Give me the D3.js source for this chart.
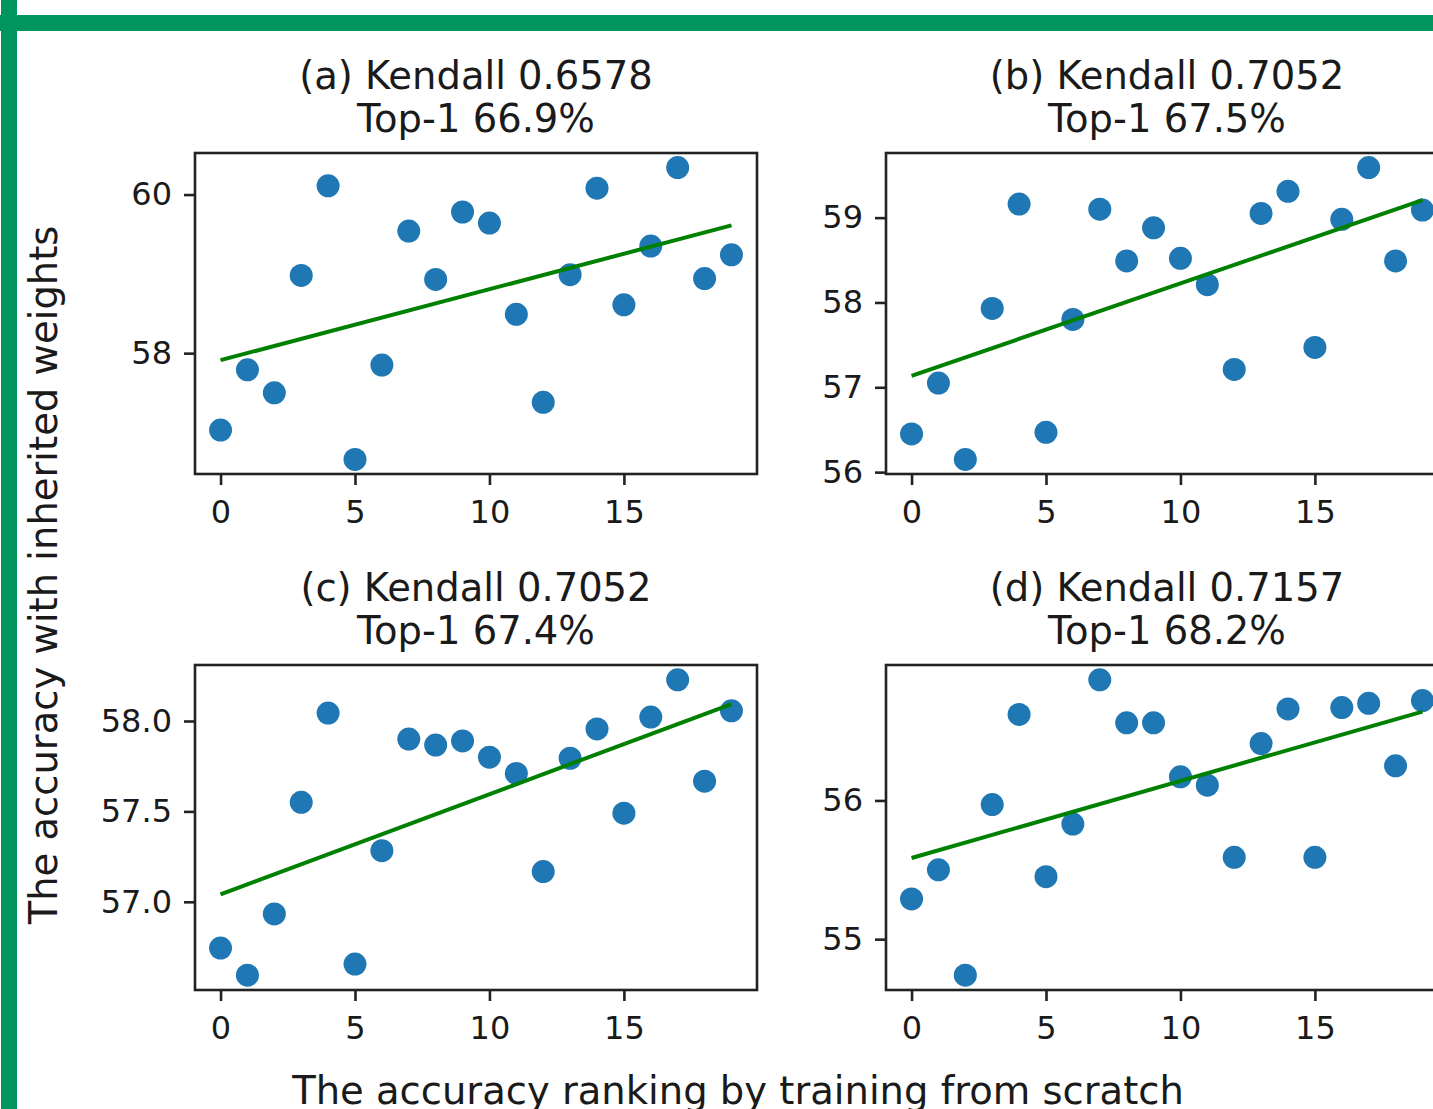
<!DOCTYPE html>
<html>
<head>
<meta charset="utf-8">
<script src="https://cdn.jsdelivr.net/npm/d3@7"></script>
<style>
  body { margin: 0; background: #fff; }
  svg { display: block; }
  text { font-family: "DejaVu Sans", sans-serif; fill: #1a1a1a; }
</style>
</head>
<body>
<div id="chart"></div>
<script>
(function () {
  // x: ranking from scratch
  let ranks = [0, 1, 2, 3, 4, 5, 6, 7, 8, 9, 10, 11, 12, 13, 14, 15, 16, 17, 18, 19];
  let xTicks = [0, 5, 10, 15];

  // y: accuracy with inherited weights
  let accA = [57.03, 57.79, 57.50, 58.98, 60.11, 56.66, 57.85, 59.54, 58.93, 59.78,
              59.64, 58.49, 57.38, 58.99, 60.08, 58.61, 59.35, 60.34, 58.94, 59.24];
  let accB = [56.45, 57.05, 56.15, 57.93, 59.16, 56.47, 57.80, 59.10, 58.49, 58.88,
              58.52, 58.21, 57.21, 59.05, 59.31, 57.47, 58.98, 59.59, 58.49, 59.09];
  let accC = [56.744, 56.594, 56.933, 57.55, 58.044, 56.656, 57.283, 57.90, 57.867, 57.89,
              57.80, 57.71, 57.167, 57.794, 57.956, 57.49, 58.022, 58.228, 57.667, 58.056];
  let accD = [55.29, 55.50, 54.74, 55.97, 56.62, 55.45, 55.83, 56.87, 56.56, 56.56,
              56.17, 56.11, 55.59, 56.41, 56.66, 55.59, 56.67, 56.70, 56.25, 56.72];

  let yTicksA = [58, 60];
  let yTicksB = [56, 57, 58, 59];
  let yTicksC = [57.0, 57.5, 58.0];
  let yTicksD = [55, 56];

  let kendall = ['0.6578', '0.7052', '0.7052', '0.7157'];
  let top1 = ['66.9%', '67.5%', '67.4%', '68.2%'];
  let letters = ['a', 'b', 'c', 'd'];

  let W = 1433, H = 1109;
  let pw = 562, ph = 321;
  let panels = [
    { vals: accA, ticks: yTicksA, fmt: d3.format('d'), left: 195, top: 153, h: 321 },
    { vals: accB, ticks: yTicksB, fmt: d3.format('d'), left: 886, top: 153, h: 321 },
    { vals: accC, ticks: yTicksC, fmt: d3.format('.1f'), left: 195, top: 665, h: 325 },
    { vals: accD, ticks: yTicksD, fmt: d3.format('d'), left: 886, top: 665, h: 325 }
  ];

  let svg = d3.select('#chart').append('svg')
    .attr('width', W).attr('height', H);

  svg.append('rect').attr('width', W).attr('height', H).attr('fill', '#fff');

  // matplotlib style 5% margins
  function pad(ext) {
    let m = (ext[1] - ext[0]) * 0.05;
    return [ext[0] - m, ext[1] + m];
  }

  function fit(xs, ys) {
    let mx = d3.mean(xs), my = d3.mean(ys);
    let sxy = d3.sum(xs, (x, i) => (x - mx) * (ys[i] - my));
    let sxx = d3.sum(xs, (x) => (x - mx) * (x - mx));
    let b = sxy / sxx;
    return { b: b, a: my - b * mx };
  }

  panels.forEach((p, k) => {
    let x = d3.scaleLinear().domain(pad(d3.extent(ranks))).range([0, pw]);
    let y = d3.scaleLinear().domain(pad(d3.extent(p.vals))).range([p.h, 0]);

    let g = svg.append('g').attr('transform', `translate(${p.left}, ${p.top})`);

    let pts = ranks.map((r, i) => ({ r: r, v: p.vals[i] }));

    g.selectAll('circle')
      .data(pts)
      .enter()
      .append('circle')
      .attr('cx', (d) => x(d.r))
      .attr('cy', (d) => y(d.v))
      .attr('r', 11.5)
      .attr('fill', '#1f77b4');

    let f = fit(ranks, p.vals);
    let x0 = d3.min(ranks), x1 = d3.max(ranks);
    g.append('line')
      .attr('x1', x(x0)).attr('y1', y(f.a + f.b * x0))
      .attr('x2', x(x1)).attr('y2', y(f.a + f.b * x1))
      .attr('stroke', '#008000')
      .attr('stroke-width', 4);

    let xa = g.append('g')
      .attr('transform', `translate(0, ${p.h})`)
      .call(d3.axisBottom(x).tickValues(xTicks).tickSize(11).tickPadding(15));
    let ya = g.append('g')
      .call(d3.axisLeft(y).tickValues(p.ticks).tickFormat(p.fmt).tickSize(11).tickPadding(12));

    [xa, ya].forEach((a) => {
      a.select('.domain').remove();
      a.selectAll('line').attr('stroke', '#222').attr('stroke-width', 2.6);
      a.selectAll('text').attr('font-size', 32).attr('font-family', '"DejaVu Sans", sans-serif').attr('fill', '#1a1a1a');
    });

    g.append('rect')
      .attr('width', pw).attr('height', p.h)
      .attr('fill', 'none')
      .attr('stroke', '#222')
      .attr('stroke-width', 2.6);

    let title = g.append('text')
      .attr('x', pw / 2)
      .attr('text-anchor', 'middle')
      .attr('font-size', 38.5);
    title.append('tspan').attr('x', pw / 2).attr('y', -64)
      .text(`(${letters[k]}) Kendall ${kendall[k]}`);
    title.append('tspan').attr('x', pw / 2).attr('y', -21)
      .text(`Top-1 ${top1[k]}`);
  });

  svg.append('text')
    .attr('transform', 'translate(57, 575) rotate(-90)')
    .attr('text-anchor', 'middle')
    .attr('font-size', 38.5)
    .text('The accuracy with inherited weights');

  svg.append('text')
    .attr('x', 738).attr('y', 1104)
    .attr('text-anchor', 'middle')
    .attr('font-size', 38.5)
    .text('The accuracy ranking by training from scratch');

  // green slide frame, cut off at the top
  svg.append('rect').attr('x', 1).attr('y', 0).attr('width', 16).attr('height', H).attr('fill', '#00945f');
  svg.append('rect').attr('x', 0).attr('y', 15).attr('width', W).attr('height', 16).attr('fill', '#00945f');
})();
</script>
</body>
</html>
